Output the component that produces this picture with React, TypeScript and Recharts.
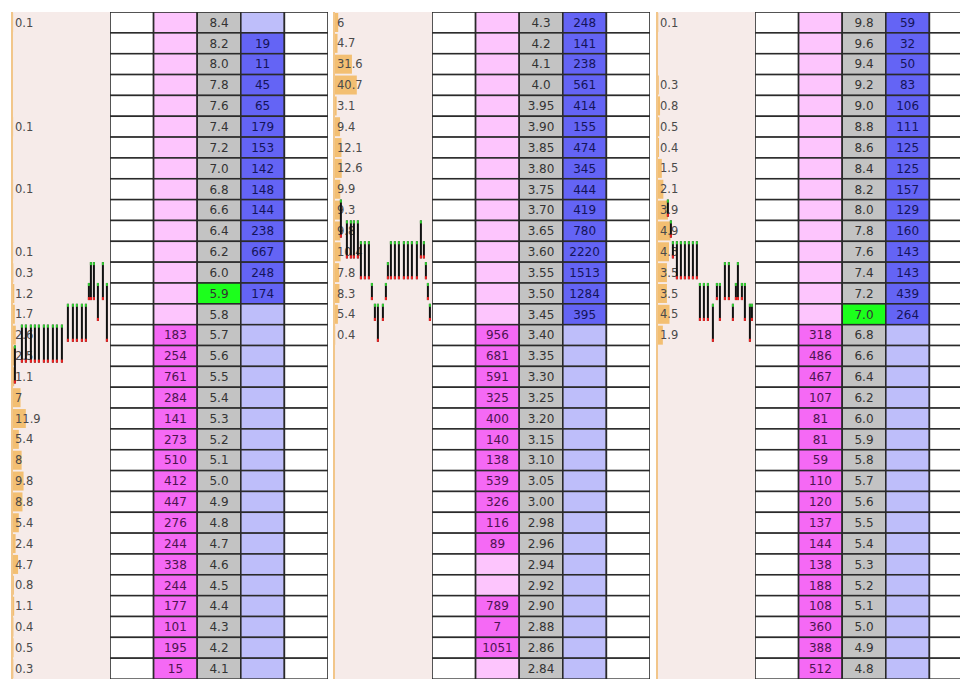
import { BarChart, Bar, XAxis, YAxis, LabelList } from 'recharts'

// --- panel 1 ---
const prices1 = ['8.4', '8.2', '8.0', '7.8', '7.6', '7.4', '7.2', '7.0', '6.8', '6.6', '6.4', '6.2', '6.0', '5.9', '5.8', '5.7',
  '5.6', '5.5', '5.4', '5.3', '5.2', '5.1', '5.0', '4.9', '4.8', '4.7', '4.6', '4.5', '4.4', '4.3', '4.2', '4.1']
const profile1 = [0.1, null, null, null, null, 0.1, null, null, 0.1, null, null, 0.1, 0.3, 1.2, 1.7, 2.6,
  2.5, 1.1, 7, 11.9, 5.4, 8, 9.8, 8.8, 5.4, 2.4, 4.7, 0.8, 1.1, 0.4, 0.5, 0.3]
const asks1 = [null, 19, 11, 45, 65, 179, 153, 142, 148, 144, 238, 667, 248, 174, null, null,
  null, null, null, null, null, null, null, null, null, null, null, null, null, null, null, null]
const bids1 = [null, null, null, null, null, null, null, null, null, null, null, null, null, null, null, 183,
  254, 761, 284, 141, 273, 510, 412, 447, 276, 244, 338, 244, 177, 101, 195, 15]
const last1 = '5.9'
// [slot, high, low]
const ticks1: [number, string, string][] = [
  [4, '5.6', '5.5'], [11, '5.7', '5.6'], [15, '5.7', '5.6'], [20, '5.7', '5.6'], [24, '5.7', '5.6'], [28, '5.7', '5.6'],
  [33, '5.7', '5.6'], [37, '5.7', '5.6'], [42, '5.7', '5.6'], [46, '5.7', '5.6'], [51, '5.7', '5.6'],
  [57, '5.8', '5.7'], [62, '5.8', '5.7'], [66, '5.8', '5.7'], [71, '5.8', '5.7'], [75, '5.8', '5.7'],
  [78, '5.9', '5.9'], [80, '6.0', '5.9'], [83, '6.0', '5.9'], [87, '5.9', '5.8'], [92, '6.0', '5.9'], [96, '5.9', '5.7'],
]

// --- panel 2 ---
const prices2 = ['4.3', '4.2', '4.1', '4.0', '3.95', '3.90', '3.85', '3.80', '3.75', '3.70', '3.65', '3.60', '3.55', '3.50', '3.45', '3.40',
  '3.35', '3.30', '3.25', '3.20', '3.15', '3.10', '3.05', '3.00', '2.98', '2.96', '2.94', '2.92', '2.90', '2.88', '2.86', '2.84']
const profile2 = [6, 4.7, 31.6, 40.7, 3.1, 9.4, 12.1, 12.6, 9.9, 9.3, 9.8, 10.4, 7.8, 8.3, 5.4, 0.4,
  null, null, null, null, null, null, null, null, null, null, null, null, null, null, null, null]
const asks2 = [248, 141, 238, 561, 414, 155, 474, 345, 444, 419, 780, 2220, 1513, 1284, 395, null,
  null, null, null, null, null, null, null, null, null, null, null, null, null, null, null, null]
const bids2 = [null, null, null, null, null, null, null, null, null, null, null, null, null, null, null, 956,
  681, 591, 325, 400, 140, 138, 539, 326, 116, 89, null, null, 789, 7, 1051, null]
const last2 = ''
const ticks2: [number, string, string][] = [
  [8, '3.70', '3.65'], [14, '3.65', '3.60'], [18, '3.65', '3.60'], [21, '3.65', '3.60'], [25, '3.65', '3.60'],
  [28, '3.60', '3.55'], [32, '3.60', '3.55'], [36, '3.60', '3.55'], [39, '3.50', '3.50'], [42, '3.45', '3.45'],
  [45, '3.45', '3.40'], [50, '3.45', '3.45'], [53, '3.50', '3.50'], [55, '3.55', '3.55'],
  [58, '3.60', '3.55'], [62, '3.60', '3.55'], [66, '3.60', '3.55'], [71, '3.60', '3.55'], [75, '3.60', '3.55'],
  [79, '3.60', '3.55'], [84, '3.60', '3.55'], [88, '3.65', '3.60'], [91, '3.60', '3.60'], [93, '3.55', '3.55'],
  [95, '3.50', '3.50'], [97, '3.45', '3.45'],
]

// --- panel 3 ---
const prices3 = ['9.8', '9.6', '9.4', '9.2', '9.0', '8.8', '8.6', '8.4', '8.2', '8.0', '7.8', '7.6', '7.4', '7.2', '7.0', '6.8',
  '6.6', '6.4', '6.2', '6.0', '5.9', '5.8', '5.7', '5.6', '5.5', '5.4', '5.3', '5.2', '5.1', '5.0', '4.9', '4.8']
const profile3 = [0.1, null, null, 0.3, 0.8, 0.5, 0.4, 1.5, 2.1, 3.9, 4.9, 4.3, 3.5, 3.5, 4.5, 1.9,
  null, null, null, null, null, null, null, null, null, null, null, null, null, null, null, null]
const asks3 = [59, 32, 50, 83, 106, 111, 125, 125, 157, 129, 160, 143, 143, 439, 264, null,
  null, null, null, null, null, null, null, null, null, null, null, null, null, null, null, null]
const bids3 = [null, null, null, null, null, null, null, null, null, null, null, null, null, null, null, 318,
  486, 467, 107, 81, 81, 59, 110, 120, 137, 144, 138, 188, 108, 360, 388, 512]
const last3 = '7.0'
const ticks3: [number, string, string][] = [
  [12, '8.0', '8.0'], [15, '7.8', '7.8'], [17, '7.6', '7.6'], [21, '7.6', '7.4'], [25, '7.6', '7.4'], [29, '7.6', '7.4'],
  [33, '7.6', '7.4'], [37, '7.6', '7.4'], [41, '7.6', '7.4'], [44, '7.2', '7.0'], [48, '7.2', '7.0'], [52, '7.2', '7.0'],
  [57, '7.0', '6.8'], [61, '7.2', '7.2'], [64, '7.2', '7.0'], [69, '7.4', '7.2'], [73, '7.4', '7.2'], [77, '7.0', '7.0'],
  [80, '7.2', '7.2'], [82, '7.4', '7.2'], [86, '7.2', '7.2'], [89, '7.2', '7.0'], [94, '7.0', '6.8'], [96, '7.0', '7.0'],
]

const TOP = 12
const H = 667
const ROWS = 32
const FONT = '"DejaVu Sans", Verdana, sans-serif'
const GRID = '#2a2a2a'
const BID = '#f569f5'
const BID_EMPTY = '#fdc5fd'
const ASK = '#6464f5'
const ASK_EMPTY = '#bebefa'
const PRICE = '#c3c3c3'
const LAST = '#1cff1c'
const ORANGE = '#f3bf72'
const NOMARGIN = { top: 0, right: 0, bottom: 0, left: 0 }

function Profile({ prices, vols, max }: { prices: string[]; vols: (number | null)[]; max: number }) {
  const data = prices.map((p, i) => ({ price: p, vol: vols[i] }))
  return (
    <BarChart layout="vertical" width={97} height={H} data={data} margin={NOMARGIN} barCategoryGap={1}>
      <XAxis type="number" domain={[0, max]} hide />
      <YAxis type="category" dataKey="price" hide />
      <Bar dataKey="vol" fill={ORANGE} isAnimationActive={false}>
        <LabelList dataKey="vol" position="insideLeft" offset={2} fill="#4a4a4a" fontSize={11.5} fontFamily={FONT} />
      </Bar>
    </BarChart>
  )
}

function TickShape(p: any) {
  const y = Math.min(p.y, p.y + p.height)
  const h = Math.abs(p.height)
  const cx = p.x + p.width / 2
  return (
    <g>
      <rect x={cx - 1} y={y} width={2} height={h} fill="#111" />
      <rect x={cx - 1} y={y} width={2} height={3} fill="#33cc33" />
      <rect x={cx - 1} y={y + h - 3} width={2} height={3} fill="#ee2222" />
    </g>
  )
}

function Ticks({ prices, ticks }: { prices: string[]; ticks: [number, string, string][] }) {
  const data = ticks.map(([t, hi, lo]) => {
    const top = prices.indexOf(hi)
    const bottom = prices.indexOf(lo) + 0.82
    return { t, span: [ROWS - bottom, ROWS - top] }
  })
  return (
    <BarChart width={98} height={H} data={data} margin={NOMARGIN}>
      <XAxis type="number" dataKey="t" domain={[0, 98]} hide />
      <YAxis type="number" domain={[0, ROWS]} hide />
      <Bar dataKey="span" barSize={2} shape={TickShape} isAnimationActive={false} />
    </BarChart>
  )
}

const cellShape = (col: string, last: string) => (props: any) => {
  const { x, y, width, height, payload } = props
  let fill = '#ffffff'
  if (col === 'bid') fill = payload.bid != null ? BID : BID_EMPTY
  if (col === 'price') fill = payload.price === last ? LAST : PRICE
  if (col === 'ask') fill = payload.ask != null ? ASK : ASK_EMPTY
  return <rect x={x} y={y} width={width} height={height} fill={fill} stroke={GRID} strokeWidth={1.6} />
}

function Ladder({ prices, bids, asks, last }: { prices: string[]; bids: (number | null)[]; asks: (number | null)[]; last: string }) {
  const data = prices.map((p, i) => ({ price: p, bid: bids[i], ask: asks[i], a: 1, b: 1, c: 1, d: 1, e: 1 }))
  return (
    <BarChart layout="vertical" width={218} height={H} data={data} margin={NOMARGIN} barCategoryGap={0}>
      <XAxis type="number" domain={[0, 5]} hide />
      <YAxis type="category" dataKey="price" hide />
      <Bar dataKey="a" stackId="l" shape={cellShape('a', last)} isAnimationActive={false} />
      <Bar dataKey="b" stackId="l" shape={cellShape('bid', last)} isAnimationActive={false}>
        <LabelList dataKey="bid" position="center" fill="#4d1450" fontSize={12} fontFamily={FONT} />
      </Bar>
      <Bar dataKey="c" stackId="l" shape={cellShape('price', last)} isAnimationActive={false}>
        <LabelList dataKey="price" position="center" fill="#333" fontSize={12} fontFamily={FONT} />
      </Bar>
      <Bar dataKey="d" stackId="l" shape={cellShape('ask', last)} isAnimationActive={false}>
        <LabelList dataKey="ask" position="center" fill="#14145a" fontSize={12} fontFamily={FONT} />
      </Bar>
      <Bar dataKey="e" stackId="l" shape={cellShape('e', last)} isAnimationActive={false} />
    </BarChart>
  )
}

function Panel(props: {
  left: number; prices: string[]; profile: (number | null)[]; max: number
  bids: (number | null)[]; asks: (number | null)[]; last: string; ticks: [number, string, string][]
}) {
  const { left } = props
  return (
    <>
      <div style={{ position: 'absolute', left: left + 2, top: TOP, width: 97, height: H, background: '#f6ebe9' }} />
      <div style={{ position: 'absolute', left, top: TOP, width: 2, height: H, background: '#f2c68a' }} />
      <div style={{ position: 'absolute', left: left + 2, top: TOP }}>
        <Profile prices={props.prices} vols={props.profile} max={props.max} />
      </div>
      <div style={{ position: 'absolute', left, top: TOP }}>
        <Ticks prices={props.prices} ticks={props.ticks} />
      </div>
      <div style={{ position: 'absolute', left: left + 99, top: TOP }}>
        <Ladder prices={props.prices} bids={props.bids} asks={props.asks} last={props.last} />
      </div>
    </>
  )
}

export default function App() {
  return (
    <div style={{ position: 'absolute', left: 0, top: 0, width: 960, height: 679, overflow: 'hidden', background: '#fff' }}>
      <Panel left={11} prices={prices1} profile={profile1} max={90} bids={bids1} asks={asks1} last={last1} ticks={ticks1} />
      <Panel left={333} prices={prices2} profile={profile2} max={181} bids={bids2} asks={asks2} last={last2} ticks={ticks2} />
      <Panel left={656} prices={prices3} profile={profile3} max={38} bids={bids3} asks={asks3} last={last3} ticks={ticks3} />
    </div>
  )
}
